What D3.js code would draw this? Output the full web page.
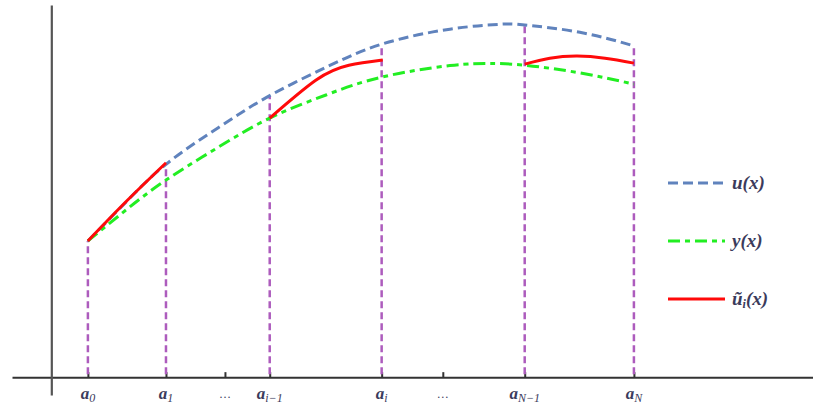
<!DOCTYPE html>
<html>
<head>
<meta charset="utf-8">
<script src="https://cdn.jsdelivr.net/npm/d3@7"></script>
<style>
  body { margin: 0; background: #fff; }
  svg { display: block; }
  .lab { font-family: "Times New Roman", "Liberation Serif", "DejaVu Serif", serif; font-style: italic; fill: #3b3b5c; }
</style>
</head>
<body>
<svg id="chart" width="813" height="405"></svg>
<script>
// breakpoints a_0 ... a_N (x positions, a_0 = 0, a_N = 1)
var breaks = [0, 0.143, 0.333, 0.538, 0.800, 1.0];
var breakLabels = [["a", "0"], ["a", "1"], ["a", "i\u22121"], ["a", "i"], ["a", "N\u22121"], ["a", "N"]];
var dotTicks = [0.251, 0.650];

// u(x)
var uX = [0, 0.071, 0.143, 0.238, 0.333, 0.436, 0.538, 0.663, 0.755, 0.800, 0.901, 1.0];
var uY = [0.389, 0.502, 0.608, 0.712, 0.804, 0.885, 0.951, 0.994, 1.008, 1.006, 0.985, 0.946];
// y(x)
var yX = [0, 0.071, 0.143, 0.238, 0.333, 0.436, 0.538, 0.663, 0.736, 0.800, 0.901, 1.0];
var yY = [0.389, 0.479, 0.563, 0.656, 0.740, 0.806, 0.857, 0.890, 0.896, 0.891, 0.869, 0.837];
// u~_i(x), one piece per interval shown
var red1X = [0, 0.071, 0.143];
var red1Y = [0.389, 0.503, 0.612];
var red2X = [0.333, 0.418, 0.478, 0.540];
var red2Y = [0.740, 0.849, 0.891, 0.906];
var red3X = [0.800, 0.846, 0.896, 0.947, 1.0];
var red3Y = [0.894, 0.911, 0.917, 0.911, 0.897];

var legendNames = ["u", "y", "u~"];

var svg = d3.select("#chart");

var x = d3.scaleLinear().domain([-0.139, 1.328]).range([12, 813]);
var y = d3.scaleLinear().domain([-0.051, 1.063]).range([395, 5]);

function pts(xs, ys) {
    return xs.map(function(d, i) { return [d, ys[i]]; });
}
var line = d3.line()
    .x(function(d) { return x(d[0]); })
    .y(function(d) { return y(d[1]); })
    .curve(d3.curveNatural);

// value of u at a breakpoint (for the vertical guides)
function uAt(v) {
    var i = uX.indexOf(v);
    return uY[i];
}

// axes
svg.append("g")
    .attr("transform", "translate(0," + y(0) + ")")
    .call(d3.axisBottom(x).tickValues(breaks.concat(dotTicks)).tickSize(-5).tickSizeOuter(0).tickFormat(""))
    .call(function(g) {
        g.select(".domain").attr("stroke", "#333").attr("stroke-width", 2);
        g.selectAll(".tick line").attr("stroke", "#333").attr("stroke-width", 2);
    });
svg.append("g")
    .attr("transform", "translate(" + x(-0.067) + ",0)")
    .call(d3.axisLeft(y).tickValues([]).tickSizeOuter(0))
    .call(function(g) {
        g.select(".domain").attr("stroke", "#555").attr("stroke-width", 2.2);
    });

// vertical guides
svg.append("g").selectAll("line")
    .data(breaks)
    .join("line")
    .attr("x1", function(d) { return x(d); })
    .attr("x2", function(d) { return x(d); })
    .attr("y1", y(0) - 3)
    .attr("y2", function(d) { return y(uAt(d)); })
    .attr("stroke", "#ad5cbd")
    .attr("stroke-width", 2.5)
    .attr("stroke-dasharray", "7,4");

// curves
svg.append("path").attr("d", line(pts(uX, uY)))
    .attr("fill", "none").attr("stroke", "#6083bd").attr("stroke-width", 3)
    .attr("stroke-dasharray", "10,5");
svg.append("path").attr("d", line(pts(yX, yY)))
    .attr("fill", "none").attr("stroke", "#22ee22").attr("stroke-width", 3)
    .attr("stroke-dasharray", "12,5,5,5");
[[red1X, red1Y], [red2X, red2Y], [red3X, red3Y]].forEach(function(s) {
    svg.append("path").attr("d", line(pts(s[0], s[1])))
        .attr("fill", "none").attr("stroke", "#ff0a0a").attr("stroke-width", 3);
});

// x labels
var labs = svg.append("g");
breaks.forEach(function(b, i) {
    var t = labs.append("text").attr("class", "lab")
        .attr("x", x(b)).attr("y", 399)
        .attr("text-anchor", "middle").style("font-size", "17px").style("font-weight", "bold");
    t.append("tspan").text(breakLabels[i][0]);
    t.append("tspan").attr("dy", 3).style("font-size", "12px").style("font-weight", "normal").text(breakLabels[i][1]);
});
dotTicks.forEach(function(b) {
    labs.append("text").attr("class", "lab")
        .attr("x", x(b)).attr("y", 398)
        .attr("text-anchor", "middle").style("font-size", "12px").style("font-style", "normal")
        .text("\u2026");
});

// legend
var leg = svg.append("g");
var legStyles = [
    { c: "#6083bd", dash: "10,5" },
    { c: "#22ee22", dash: "12,5,5,5" },
    { c: "#ff0a0a", dash: null }
];
legendNames.forEach(function(n, i) {
    var ly = 183 + i * 58;
    leg.append("line")
        .attr("x1", 668).attr("x2", 725).attr("y1", ly).attr("y2", ly)
        .attr("stroke", legStyles[i].c).attr("stroke-width", 3)
        .attr("stroke-dasharray", legStyles[i].dash);
    var t = leg.append("text").attr("class", "lab")
        .attr("x", 732).attr("y", ly + 6).style("font-size", "19px").style("font-weight", "bold");
    if (n === "u~") {
        t.append("tspan").text("\u0169");
        t.append("tspan").attr("dy", 3).style("font-size", "12px").text("i");
        t.append("tspan").attr("dy", -3).text("(x)");
    } else {
        t.append("tspan").text(n + "(x)");
    }
});
</script>
</body>
</html>
